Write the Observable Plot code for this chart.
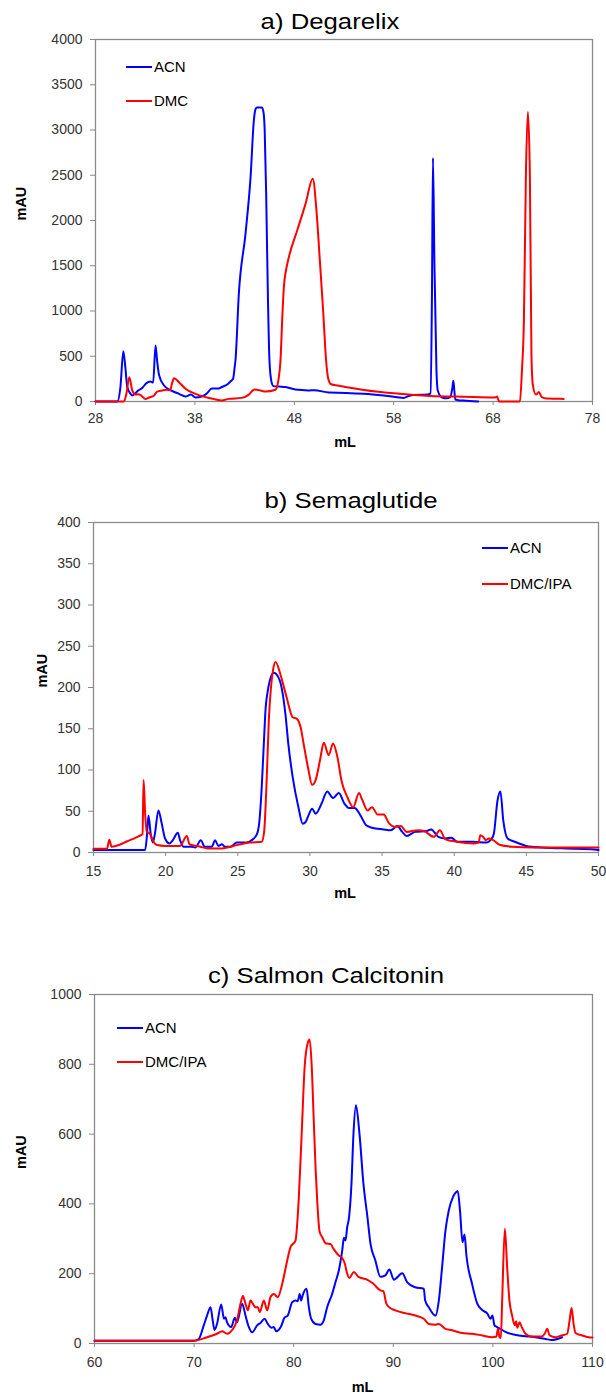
<!DOCTYPE html>
<html><head><meta charset="utf-8">
<script src="https://cdn.jsdelivr.net/npm/d3@7"></script>
<script src="https://cdn.jsdelivr.net/npm/@observablehq/plot@0.6"></script>
<style>
body{margin:0;background:#fff;font-family:"Liberation Sans",Arial,sans-serif;}
#wrap{position:relative;width:606px;height:1394px;overflow:hidden;background:#fff;}
.panel{position:absolute;left:0;}
.title{position:absolute;font-size:22px;line-height:22px;white-space:nowrap;color:#000;transform:translateX(-50%) scaleX(1.17);}
.leg{position:absolute;display:flex;align-items:center;height:18px;font-size:15px;line-height:18px;color:#000;white-space:nowrap;}
.sw{width:26px;height:2px;margin-right:2px;}
</style></head>
<body><div id="wrap"></div>
<script>
// ---------- a) Degarelix ----------
const degTicksX = [28, 38, 48, 58, 68, 78];
const degTicksY = [0, 500, 1000, 1500, 2000, 2500, 3000, 3500, 4000];
const degACN_mL = [28,30.2,30.5,30.8,31.0,31.2,31.5,31.7,32.0,32.3,32.7,33.1,33.5,33.8,34.04,34.2,34.4,34.9,35.6,36.4,37.05,37.6,38.06,38.7,39.2,39.7,40.4,40.7,41.25,41.6,41.85,42.0,42.08,42.42,43.09,43.6,43.93,44.1,44.25,44.75,44.92,45.02,45.17,45.34,45.5,45.7,45.9,46.5,47.1,48.1,49.0,49.5,50.0,51.5,53.2,55.0,57.0,58.35,59.0,59.5,60.0,61.4,61.7,61.85,61.95,62.1,62.3,62.43,62.87,63.3,63.7,63.9,64.0,64.1,64.2,64.5,65.0,66.5];
const degACN_mAU = [0,0,150,556,380,160,90,66,90,122,150,200,220,210,619,450,290,177,122,85,55,77,44,55,88,144,144,160,187,224,254,380,453,1190,1853,2479,3105,3230,3250,3250,3180,3000,2295,1190,453,220,170,165,160,133,125,122,125,99,95,85,65,48,40,60,72,77,90,1200,2690,1500,350,122,44,35,50,150,230,120,22,15,10,0];
const degDMC_mL = [28,30.85,31.1,31.4,31.7,32.0,32.3,32.6,33.0,33.4,33.9,34.2,34.7,35.2,35.5,35.7,35.9,36.4,37.05,38.06,39.06,40.0,40.7,41.4,42.7,43.4,44.0,44.6,45.1,46.1,46.4,46.61,46.8,46.95,47.2,47.45,48.29,49.13,49.86,50.23,50.57,50.9,51.2,51.4,51.7,52.2,55.0,58.35,61.7,65.05,68.2,68.4,68.6,70.7,70.9,71.1,71.3,71.5,71.7,71.86,72.0,72.3,72.6,72.9,73.4,74.8,75.1];
const degDMC_mAU = [0,0,80,269,122,77,80,66,29,44,66,110,122,130,122,200,258,214,140,85,48,25,11,29,40,74,133,122,110,130,236,453,950,1263,1470,1595,1890,2184,2461,2110,1558,1005,453,260,190,180,128,88,62,52,44,55,0,0,340,900,2500,3200,2500,500,180,77,105,48,33,30,28];

// ---------- b) Semaglutide ----------
const semTicksX = [15, 20, 25, 30, 35, 40, 45, 50];
const semTicksY = [0, 50, 100, 150, 200, 250, 300, 350, 400];
const semACN_mL = [15,16,18.58,18.7,18.81,18.97,19.11,19.25,19.5,19.73,19.96,20.27,20.5,20.84,21.0,21.24,21.8,22.05,22.44,22.7,23.2,23.43,23.65,23.9,24.1,24.5,24.93,25.6,25.97,26.32,26.48,26.62,26.8,26.93,27.07,27.3,27.5,27.9,28.3,28.5,28.8,29.2,29.5,29.7,29.9,30.15,30.4,30.8,31.2,31.6,32.0,32.4,32.7,33.1,33.5,33.9,34.3,35.1,35.6,36.05,36.4,36.7,37.3,38.1,38.4,38.9,39.4,39.8,40.2,41.3,42.2,42.6,42.75,43.0,43.2,43.4,43.7,44.2,44.8,45.0,46.1,47.4,49.5,50];
const semACN_mAU = [3,3,3,20,45,22,12,22,51,35,17,11,15,24,15,7,7,6,15,7,7,15,8,10,7,7,12,12,15,22,35,67,130,175,195,213,218,209,168,132,92,55,35,37,45,53,47,59,74,66,72,59,54,54,45,33,30,28,27,32,25,20,25,26,28,19,17,18,13,13,12,17,23,63,74,39,17,13,9,8,6,5,4,3];
const semDMC_mL = [15,15.93,16.1,16.25,16.85,17.3,17.9,18.23,18.4,18.47,18.58,18.7,18.9,19.16,19.4,20.0,21.0,21.47,21.65,22.4,22.9,23.9,24.7,25.86,26.66,26.83,27.0,27.15,27.3,27.45,27.62,28.0,28.4,28.8,29.1,29.35,29.6,29.9,30.15,30.4,30.7,30.96,31.3,31.6,31.9,32.2,32.6,33.0,33.4,33.6,34.0,34.3,34.7,35.1,35.5,35.9,36.3,36.7,37.5,37.9,38.6,39.0,39.4,40.2,41.3,41.7,41.8,42.0,42.2,42.4,42.7,43.2,44.0,45.5,50];
const semDMC_mAU = [4.4,4.4,15.4,7,9.7,13.3,17.8,20.6,22,88,47,25,23,13,9,8,8,20,10,7,5,5,8,12,13,26,87,160,200,222,231,213,187,164,162,152,128,100,82,88,112,133,118,132,116,86,67,55,72,65,51,55,46,46,35,31,32,25,27,26,19,27,16,13,11,12,21,19,15,17,15,9,7,6,6];

// ---------- c) Salmon Calcitonin ----------
const calTicksX = [60, 70, 80, 90, 100, 110];
const calTicksY = [0, 200, 400, 600, 800, 1000];
const calACN_mL = [60,70.0,70.47,70.97,71.3,71.65,71.85,72.05,72.3,72.72,73.0,73.15,73.3,73.72,74.09,74.3,74.83,75.16,75.5,75.83,76.33,76.67,77.07,77.4,77.77,78.0,78.24,78.7,79.08,79.4,79.85,80.2,80.4,80.6,80.75,80.9,81.29,81.52,81.75,82.19,82.7,83.0,83.36,83.86,84.2,84.53,84.87,85.04,85.2,85.37,85.55,85.8,86.0,86.25,86.6,87.0,87.4,87.71,88.2,88.7,89.2,89.6,90.05,90.9,91.4,92.2,93.06,93.2,93.56,94.24,94.57,94.9,95.24,95.57,96.0,96.2,96.47,96.7,96.95,97.15,97.35,97.9,98.42,98.93,99.43,99.76,99.95,100.16,100.42,100.75,101.26,102.6,104.27,105.3,105.9,106.96];
const calACN_mAU = [8,8,13,52,80,104,70,39,56,112,71,75,61,47,74,61,114,80,47,32,52,59,71,56,45,47,35,47,74,80,118,123,121,142,123,138,157,104,71,56,54,65,104,142,176,209,266,303,295,333,360,458,600,683,602,458,363,286,238,191,195,212,183,201,175,161,157,123,104,80,123,219,324,381,420,430,437,380,290,312,250,172,115,96,86,71,80,52,47,42,33,23,18,13,10,18];
const calDMC_mL = [60,70.0,71.3,72.3,72.82,73.3,73.8,74.3,74.66,74.9,75.16,75.4,75.66,75.9,76.16,76.4,76.6,77.0,77.34,77.67,78.0,78.4,78.85,79.35,79.68,80.18,80.5,80.8,81.1,81.4,81.6,81.8,82.0,82.2,82.36,82.6,82.86,83.2,83.7,84.0,84.53,84.87,85.13,85.37,85.6,86.03,86.5,87.37,88.0,88.7,89.0,89.3,89.55,90.2,91.2,92.2,93.06,93.56,94.24,94.57,95.24,95.9,96.9,97.92,98.93,99.93,100.36,100.5,100.67,100.8,100.93,101.2,101.43,101.66,101.93,102.2,102.33,102.45,102.67,102.9,103.27,103.9,104.9,105.2,105.45,105.7,106.3,106.9,107.46,107.7,107.9,108.1,108.3,108.97,109.6,110];
const calDMC_mAU = [8,8,18,28,35,28,38,66,114,136,114,95,123,114,104,104,90,123,95,133,142,133,171,238,276,295,410,600,793,860,871,800,650,500,410,320,305,287,285,271,252,245,229,200,188,205,191,183,171,152,150,114,105,95,87,80,71,56,54,56,42,38,30,28,23,18,20,42,18,16,123,329,219,123,80,52,64,45,61,47,28,20,20,28,42,23,18,23,28,66,102,56,30,23,18,17];

const BLUE = "#0000ff", RED = "#ff0000";
const FONT = '"Liberation Sans", Arial, sans-serif';
const zip = (xs, ys) => xs.map((x, i) => ({x, y: ys[i]}));

const wrap = document.getElementById("wrap");

function panel(cfg) {
  const height = cfg.mt + cfg.frameH + cfg.mb;
  const chart = Plot.plot({
    width: 606,
    height,
    marginTop: cfg.mt, marginBottom: cfg.mb, marginLeft: cfg.ml, marginRight: cfg.mr,
    style: {fontFamily: FONT, background: "transparent", overflow: "visible"},
    x: {domain: cfg.xDomain},
    y: {domain: cfg.yDomain},
    marks: [
      Plot.frame({stroke: "#8a8a8a", strokeWidth: 1.3}),
      Plot.axisY({ticks: cfg.yTicks, tickSize: 5, tickPadding: 8, stroke: "#8a8a8a", fill: "#333", fontSize: 14, label: null, tickFormat: d => String(d)}),
      Plot.axisX({ticks: cfg.xTicks, tickSize: 4, tickPadding: cfg.xPad, stroke: "#8a8a8a", fill: "#333", fontSize: 14, label: null, tickFormat: d => String(d)}),
      ...cfg.series.map(s => Plot.line(s.data, {x: "x", y: "y", stroke: s.color, strokeWidth: 2, curve: "monotone-x"})),
      Plot.text([cfg.xLabel], {text: d => d, frameAnchor: "bottom", dy: cfg.xLabDy, dx: cfg.xLabDx, fontWeight: "bold", fontSize: 14.5, fill: "#000", lineAnchor: "middle"}),
      Plot.text([cfg.yLabel], {text: d => d, frameAnchor: "left", dx: cfg.yLabDx, rotate: -90, fontWeight: "bold", fontSize: 14.5, fill: "#000", lineAnchor: "middle"})
    ]
  });
  const div = document.createElement("div");
  div.className = "panel";
  div.style.top = cfg.top + "px";
  div.appendChild(chart);
  wrap.appendChild(div);

  const t = document.createElement("div");
  t.className = "title";
  t.textContent = cfg.title;
  t.style.left = cfg.titleX + "px";
  t.style.top = cfg.titleTop + "px";
  wrap.appendChild(t);

  cfg.series.forEach((s, i) => {
    const l = document.createElement("div");
    l.className = "leg";
    l.style.left = cfg.legX + "px";
    l.style.top = (cfg.legY[i] - 9) + "px";
    const sw = document.createElement("div");
    sw.className = "sw";
    sw.style.background = s.color;
    const tx = document.createElement("span");
    tx.textContent = s.name;
    l.appendChild(sw); l.appendChild(tx);
    wrap.appendChild(l);
  });
}

panel({
  title: "a) Degarelix", titleX: 330, titleTop: 10.5,
  top: 30, mt: 9, frameH: 362, mb: 50, ml: 95, mr: 14, xPad: 8,
  xDomain: [28, 78], xTicks: degTicksX, yDomain: [0, 4000], yTicks: degTicksY,
  xLabel: "mL", xLabDy: 41, xLabDx: 1, yLabel: "mAU", yLabDx: -74,
  legX: 126, legY: [67, 101],
  series: [
    {name: "ACN", color: BLUE, data: zip(degACN_mL, degACN_mAU)},
    {name: "DMC", color: RED, data: zip(degDMC_mL, degDMC_mAU)}
  ]
});

panel({
  title: "b) Semaglutide", titleX: 351, titleTop: 489.5,
  top: 510, mt: 12, frameH: 330, mb: 52, ml: 93, mr: 8, xPad: 10,
  xDomain: [15, 50], xTicks: semTicksX, yDomain: [0, 400], yTicks: semTicksY,
  xLabel: "mL", xLabDy: 41, xLabDx: -1, yLabel: "mAU", yLabDx: -51,
  legX: 482, legY: [548, 584],
  series: [
    {name: "ACN", color: BLUE, data: zip(semACN_mL, semACN_mAU)},
    {name: "DMC/IPA", color: RED, data: zip(semDMC_mL, semDMC_mAU)}
  ]
});

panel({
  title: "c) Salmon Calcitonin", titleX: 326, titleTop: 964.5,
  top: 984, mt: 10, frameH: 349, mb: 50, ml: 94, mr: 14, xPad: 10,
  xDomain: [60, 110], xTicks: calTicksX, yDomain: [0, 1000], yTicks: calTicksY,
  xLabel: "mL", xLabDy: 44, xLabDx: 19, yLabel: "mAU", yLabDx: -73,
  legX: 117, legY: [1028, 1062],
  series: [
    {name: "ACN", color: BLUE, data: zip(calACN_mL, calACN_mAU)},
    {name: "DMC/IPA", color: RED, data: zip(calDMC_mL, calDMC_mAU)}
  ]
});
</script>
</body></html>
